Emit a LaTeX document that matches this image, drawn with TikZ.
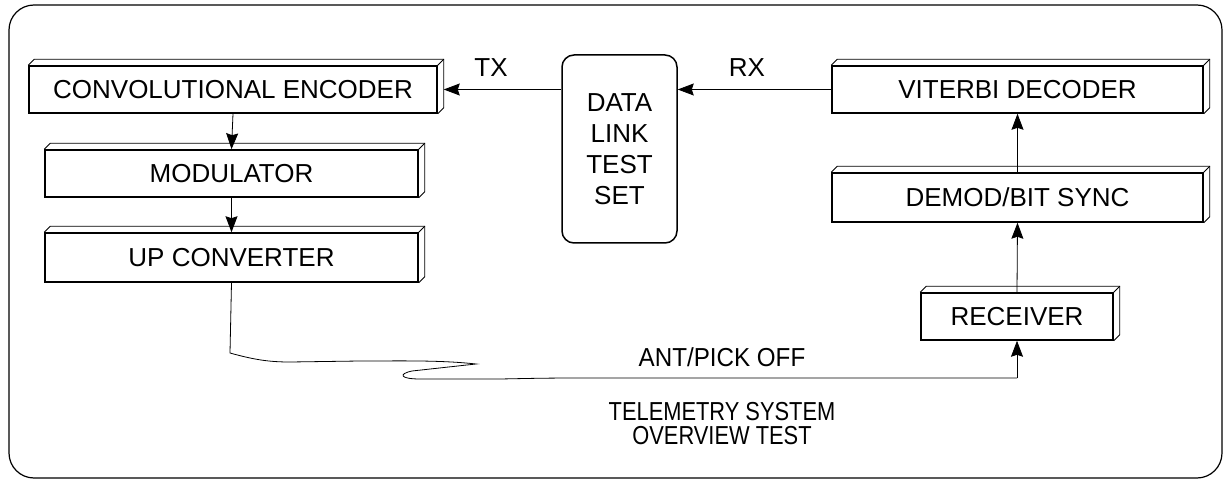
\documentclass[tikz,border=0pt]{standalone}
\usepackage{fontspec}
\setmainfont{Liberation Sans}
\usetikzlibrary{arrows.meta}
\begin{document}
\begin{tikzpicture}[x=1pt,y=-1pt,
  blk/.style={draw, line width=1.5pt, inner sep=0pt, font=\fontsize{26}{30}\selectfont},
  dlbox/.style={draw, line width=1.5pt, rounded corners=12pt, inner sep=0pt, align=center,
     minimum width=115pt, minimum height=188pt, font=\fontsize{26}{31}\selectfont},
  depth/.style={line width=0.8pt},
  arr/.style={line width=0.8pt, -{Stealth[length=16pt,width=12pt,inset=2pt]}},
  wire/.style={line width=0.8pt},
  lbl/.style={inner sep=0pt, font=\fontsize{26}{30}\selectfont}]
\useasboundingbox (0,0) rectangle (1227,481);
\draw[line width=1.2pt, rounded corners=25pt] (9,5) rectangle (1222,478);

\node[blk, minimum width=408pt, minimum height=47pt] (conv) at (233,89.5) {CONVOLUTIONAL ENCODER};
\node[blk, minimum width=373pt, minimum height=47pt] (mod) at (231.5,173.5) {MODULATOR};
\node[blk, minimum width=373pt, minimum height=49pt] (up) at (231.5,257.5) {UP CONVERTER};
\node[blk, minimum width=371pt, minimum height=47pt] (vit) at (1017.5,89.5) {VITERBI DECODER};
\node[blk, minimum width=371pt, minimum height=49pt] (dem) at (1017.5,197.5) {DEMOD/BIT SYNC};
\node[blk, minimum width=192pt, minimum height=47pt] (rec) at (1017,316.5) {RECEIVER};
\node[dlbox] (dl) at (619.5,149) {DATA\\LINK\\TEST\\SET};

\foreach \n in {conv,mod,up,vit,dem,rec} {
  \draw[depth] (\n.north west) -- ++(6,-6) -| ([shift={(6,-6)}]\n.south east) -- (\n.south east);
  \draw[depth] (\n.north east) -- ++(6,-6);
}

\node[lbl] (tx) at (491,68) {TX};
\node[lbl] (rx) at (747,68) {RX};
\node[lbl] (ant) at (722,357) {\scalebox{0.93}[1]{ANT/PICK OFF}};
\node[lbl] (title1) at (722,412) {\scalebox{0.84}[1]{TELEMETRY SYSTEM}};
\node[lbl] (title2) at (722,436) {\scalebox{0.84}[1]{OVERVIEW TEST}};

\draw[arr] (dl.west |- conv.east) -- ([xshift=6pt]conv.east);
\draw[arr] (vit.west) -- (dl.east |- vit.west);
\draw[arr] (conv.south) -- (mod.north);
\draw[arr] (mod.south) -- (up.north);
\draw[arr] (dem.north) -- (vit.south);
\draw[arr] (rec.north) -- (dem.south);

\coordinate (antc) at (1017,378);
\draw[wire] (up.south) -- (230,353)
  .. controls (255,360) and (270,362) .. (290,362) -- (360,361)
  .. controls (400,361) and (440,360) .. (476,364)
  -- (412,371) .. controls (398,374) and (400,379) .. (420,379)
  -- (500,379) .. controls (550,378) .. (610,378) -- (antc);
\draw[arr] (antc) -- (rec.south);
\end{tikzpicture}
\end{document}
